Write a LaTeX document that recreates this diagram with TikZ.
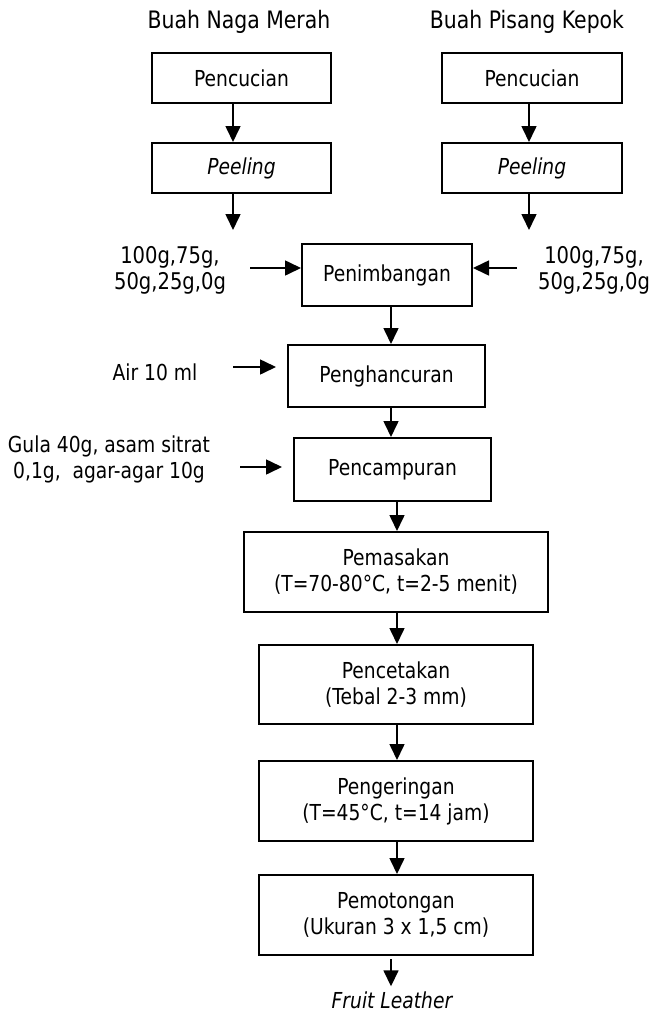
\documentclass[tikz,border=0pt]{standalone}
\usepackage{fontspec}
\setmainfont{DejaVu Sans}[FakeStretch=0.85]
\usetikzlibrary{arrows.meta}

\begin{document}
\begin{tikzpicture}[
    x=1pt, y=-1pt,
    font=\fontsize{22}{26}\selectfont,
    proc/.style={draw, line width=2pt, inner sep=0pt, align=center},
    flow/.style={line width=1.6pt, -{Triangle[length=16pt,width=15pt]}},
    heading/.style={font=\fontsize{24}{28}\selectfont},
    amount/.style={align=center, font=\fontsize{23}{26}\selectfont}
    ]

    \useasboundingbox (0,0) rectangle (649,1015);

    \node (tleft) [heading] at (239,22) {Buah Naga Merah};
    \node (tright) [heading] at (527,22) {Buah Pisang Kepok};

    \node (lwash) [proc,minimum width=179pt,minimum height=50pt] at (241.5,78) {Pencucian};
    \node (lpeel) [proc,minimum width=179pt,minimum height=50pt] at (241.5,168) {\itshape Peeling};
    \node (rwash) [proc,minimum width=180pt,minimum height=50pt] at (532,78) {Pencucian};
    \node (rpeel) [proc,minimum width=180pt,minimum height=50pt] at (532,168) {\itshape Peeling};
    \coordinate (lout) at (233,230);
    \coordinate (rout) at (529,230);

    \node (weigh) [proc,minimum width=170pt,minimum height=62pt] at (387,275) {Penimbangan};
    \node (crush) [proc,minimum width=197pt,minimum height=62pt] at (386.5,376) {Penghancuran};
    \node (mix) [proc,minimum width=197pt,minimum height=63pt] at (392.5,469.5) {Pencampuran};
    \node (cook) [proc,minimum width=304pt,minimum height=80pt] at (396,572) {Pemasakan\\(T=70-80°C, t=2-5 menit)};
    \node (mold) [proc,minimum width=274pt,minimum height=79pt] at (396,684.5) {Pencetakan\\(Tebal 2-3 mm)};
    \node (dry) [proc,minimum width=274pt,minimum height=80pt] at (396,801) {Pengeringan\\(T=45°C, t=14 jam)};
    \node (cut) [proc,minimum width=274pt,minimum height=80pt] at (396,915) {Pemotongan\\(Ukuran 3 x 1,5 cm)};
    \node (fruit) [inner sep=1pt] at (392,1000) {\itshape Fruit Leather};

    \node (lin) [amount] at (170,270) {100g,75g,\\50g,25g,0g};
    \node (rin) [amount] at (594,270) {100g,75g,\\50g,25g,0g};
    \node (water) at (155,372) {Air 10 ml};
    \node (add) [align=center] at (109,459) {Gula 40g, asam sitrat\\0,1g,\ \ agar-agar 10g};
    \coordinate (lin0) at (250,268);
    \coordinate (rin0) at (517,268);
    \coordinate (water0) at (233,367);
    \coordinate (add0) at (240,467);

    \draw[flow] ([xshift=-8.5pt]lwash.south) -- ([xshift=-8.5pt]lpeel.north);
    \draw[flow] ([xshift=-3pt]rwash.south) -- ([xshift=-3pt]rpeel.north);
    \draw[flow] (lout |- lpeel.south) -- (lout);
    \draw[flow] (rout |- rpeel.south) -- (rout);

    \draw[flow] (lin0) -- (lin0 -| weigh.west);
    \draw[flow] (rin0) -- (rin0 -| weigh.east);
    \draw[flow, shorten >=11pt] (water0) -- (water0 -| crush.west);
    \draw[flow, shorten >=11pt] (add0) -- (add0 -| mix.west);

    \draw[flow] ([xshift=4pt]weigh.south) -- ([xshift=4pt]weigh.south |- crush.north);
    \draw[flow] ([xshift=4.5pt]crush.south) -- ([xshift=4.5pt]crush.south |- mix.north);
    \draw[flow] ([xshift=4.5pt]mix.south) -- ([xshift=4.5pt]mix.south |- cook.north);
    \foreach \a/\b in {cook/mold, mold/dry, dry/cut}
      \draw[flow] ([xshift=1pt]\a.south) -- ([xshift=1pt]\b.north);
    \draw[flow, shorten <=3pt, shorten >=4pt] ([xshift=-5pt]cut.south) -- ([xshift=-5pt]cut.south |- fruit.north);

  \end{tikzpicture}
\end{document}
